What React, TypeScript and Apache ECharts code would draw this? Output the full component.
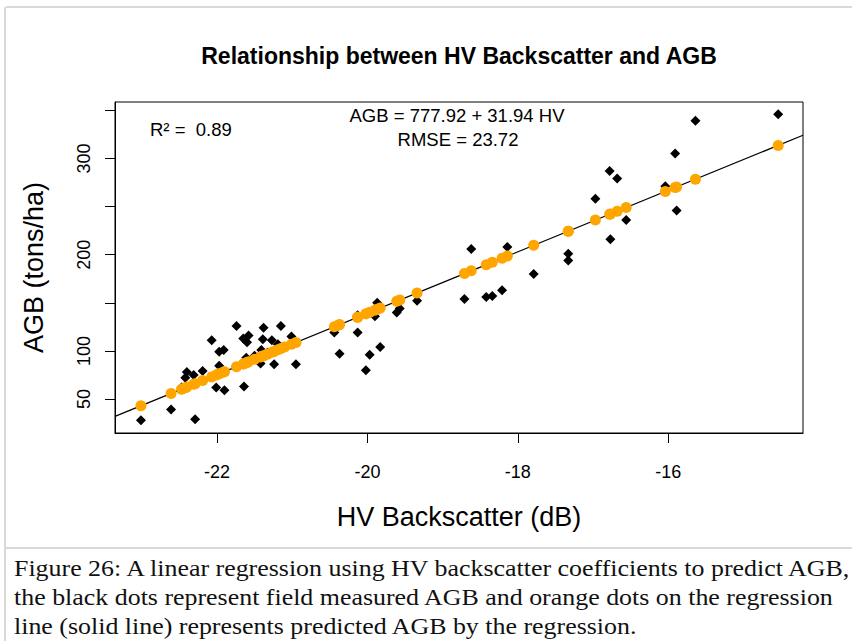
import React, { useEffect, useRef } from "react";
import * as echarts from "echarts";

// Field-measured HV backscatter (dB) and AGB (tons/ha)
const measuredHV = [
  -23.01, -22.61, -22.47, -22.42, -22.4, -22.31, -22.29, -22.19, -22.07, -22.01,
  -21.97, -21.97, -21.91, -21.9, -21.74, -21.65, -21.64, -21.61, -21.6, -21.58,
  -21.5, -21.42, -21.41, -21.39, -21.38, -21.33, -21.27, -21.24, -21.19, -21.15,
  -21.1, -21.01, -20.95, -20.44, -20.39, -20.37, -20.13, -20.13, -20.02, -19.97,
  -19.9, -19.87, -19.83, -19.61, -19.57, -19.34, -18.71, -18.62, -18.42, -18.34,
  -18.21, -18.14, -17.79, -17.33, -17.33, -16.97, -16.78, -16.77, -16.68, -16.56,
  -16.04, -15.91, -15.89, -15.64, -14.54,
];
const measuredAGB = [
  28, 39, 62, 72, 78, 75, 29, 79, 111, 62,
  99, 84.5, 101, 59, 126, 113, 63, 93, 109, 116,
  95, 87, 101, 112, 124, 98, 111, 86, 107, 126,
  104, 115, 86, 119, 126, 97, 137, 119, 80, 96,
  136, 150, 104, 140, 144, 152, 154, 206, 156, 157,
  163, 208, 180, 201, 194, 258, 287, 216, 279, 236,
  271, 305, 246, 339, 346,
];
// Predicted AGB (orange dots on the regression line)
const predictedAGB = [
  42.98, 55.75, 60.23, 61.83, 62.46, 65.34, 65.98, 69.17, 73.01, 74.92,
  76.2, 76.2, 78.11, 78.43, 83.54, 86.42, 86.74, 87.7, 88.02, 88.65,
  91.21, 93.77, 94.08, 94.72, 95.04, 96.64, 98.56, 99.51, 101.11, 102.39,
  103.99, 106.86, 108.78, 125.07, 126.67, 127.3, 134.97, 134.97, 138.48, 140.08,
  142.31, 143.27, 144.54, 151.58, 152.85, 160.2, 180.32, 183.2, 189.59, 192.14,
  196.29, 198.53, 209.71, 224.4, 224.4, 235.9, 241.97, 242.29, 245.16, 248.99,
  265.6, 269.75, 270.39, 278.38, 313.51,
];
// Regression line end points (at the plot edges)
const fitLineHV = [-23.355, -14.21];
const fitLineAGB = [31.96, 324.05];

const xTicks = [-22, -20, -18, -16];
const yTicks = [50, 100, 150, 200, 250, 300, 350];
const yLabels = [50, 100, 200, 300];

const titleText = "Relationship between HV Backscatter and AGB";
const xName = "HV Backscatter (dB)";
const yName = "AGB (tons/ha)";
const r2Text = "R² =\u00A0 0.89";
const eqText = "AGB = 777.92 + 31.94 HV";
const rmseText = "RMSE = 23.72";
const captionLines = [
  "Figure 26: A linear regression using HV backscatter coefficients to predict AGB,",
  "the black dots represent field measured AGB and orange dots on the regression",
  "line (solid line) represents predicted AGB by the regression.",
];

const SANS = "'Liberation Sans', Arial, sans-serif";
const SERIF = "'Liberation Serif', 'Times New Roman', serif";

export default function App() {
  const ref = useRef<HTMLDivElement>(null);
  useEffect(() => {
    if (!ref.current) return;
    const chart = echarts.init(ref.current, null, { renderer: "svg" });
    const measured = measuredHV.map((x, i) => [x, measuredAGB[i]]);
    const predicted = measuredHV.map((x, i) => [x, predictedAGB[i]]);
    const fit = fitLineHV.map((x, i) => [x, fitLineAGB[i]]);
    chart.setOption({
      animation: false,
      backgroundColor: "#fff",
      grid: {
        left: 115,
        top: 102,
        width: 688,
        height: 331,
        show: true,
        borderColor: "#000",
        borderWidth: 1,
        backgroundColor: "transparent",
      },
      xAxis: {
        type: "value",
        min: -23.355,
        max: -14.21,
        axisLine: { show: true, onZero: false, lineStyle: { color: "#000", width: 1 } },
        axisTick: { show: true, length: 10, customValues: xTicks, lineStyle: { color: "#000" } },
        axisLabel: { customValues: xTicks, margin: 30, fontSize: 18, color: "#000", fontFamily: SANS },
        splitLine: { show: false },
        name: xName,
        nameLocation: "middle",
        nameGap: 70,
        nameTextStyle: { fontSize: 27, color: "#000", fontFamily: SANS },
      },
      yAxis: {
        type: "value",
        min: 14.7,
        max: 358.6,
        axisLine: { show: true, onZero: false, lineStyle: { color: "#000", width: 1 } },
        axisTick: { show: true, length: 10, customValues: yTicks, lineStyle: { color: "#000" } },
        axisLabel: { customValues: yLabels, rotate: 90, margin: 22, fontSize: 18, color: "#000", fontFamily: SANS },
        splitLine: { show: false },
        name: yName,
        nameLocation: "middle",
        nameGap: 68,
        nameTextStyle: { fontSize: 27, color: "#000", fontFamily: SANS },
      },
      series: [
        {
          type: "line",
          data: fit,
          symbol: "none",
          lineStyle: { color: "#000", width: 1.2 },
          silent: true,
          z: 1,
        },
        {
          type: "scatter",
          data: measured,
          symbol: "diamond",
          symbolSize: 10,
          itemStyle: { color: "#000", opacity: 1 },
          z: 2,
        },
        {
          type: "scatter",
          data: predicted,
          symbol: "circle",
          symbolSize: 11,
          itemStyle: { color: "#FFA500", opacity: 1 },
          z: 3,
        },
      ],
      graphic: [
        { type: "line", shape: { x1: 6, y1: 7, x2: 852, y2: 7 }, style: { stroke: "#d9d9d9", lineWidth: 2 } },
        { type: "line", shape: { x1: 5, y1: 7, x2: 5, y2: 641 }, style: { stroke: "#d9d9d9", lineWidth: 2 } },
        { type: "line", shape: { x1: 5, y1: 548, x2: 852, y2: 548 }, style: { stroke: "#d9d9d9", lineWidth: 2 } },
        {
          type: "text",
          x: 459,
          y: 56,
          style: { text: titleText, fontSize: 23, fontWeight: "bold", fontFamily: SANS, fill: "#000", align: "center", verticalAlign: "middle" },
        },
        {
          type: "text",
          x: 150,
          y: 129,
          style: { text: r2Text, fontSize: 18.5, fontFamily: SANS, fill: "#000", align: "left", verticalAlign: "middle" },
        },
        {
          type: "text",
          x: 457,
          y: 115,
          style: { text: eqText, fontSize: 18.5, fontFamily: SANS, fill: "#000", align: "center", verticalAlign: "middle" },
        },
        {
          type: "text",
          x: 458,
          y: 139,
          style: { text: rmseText, fontSize: 18.5, fontFamily: SANS, fill: "#000", align: "center", verticalAlign: "middle" },
        },
        ...captionLines.map((t, i) => ({
          type: "text",
          x: 14,
          y: 568 + i * 29,
          scaleX: 1.08,
          style: { text: t, fontSize: 24, fontFamily: SERIF, fill: "#111", align: "left", verticalAlign: "middle" },
        })),
      ],
    });
    return () => chart.dispose();
  }, []);
  return (
    <div
      ref={ref}
      style={{ position: "absolute", left: 0, top: 0, width: 852, height: 641 }}
    />
  );
}
